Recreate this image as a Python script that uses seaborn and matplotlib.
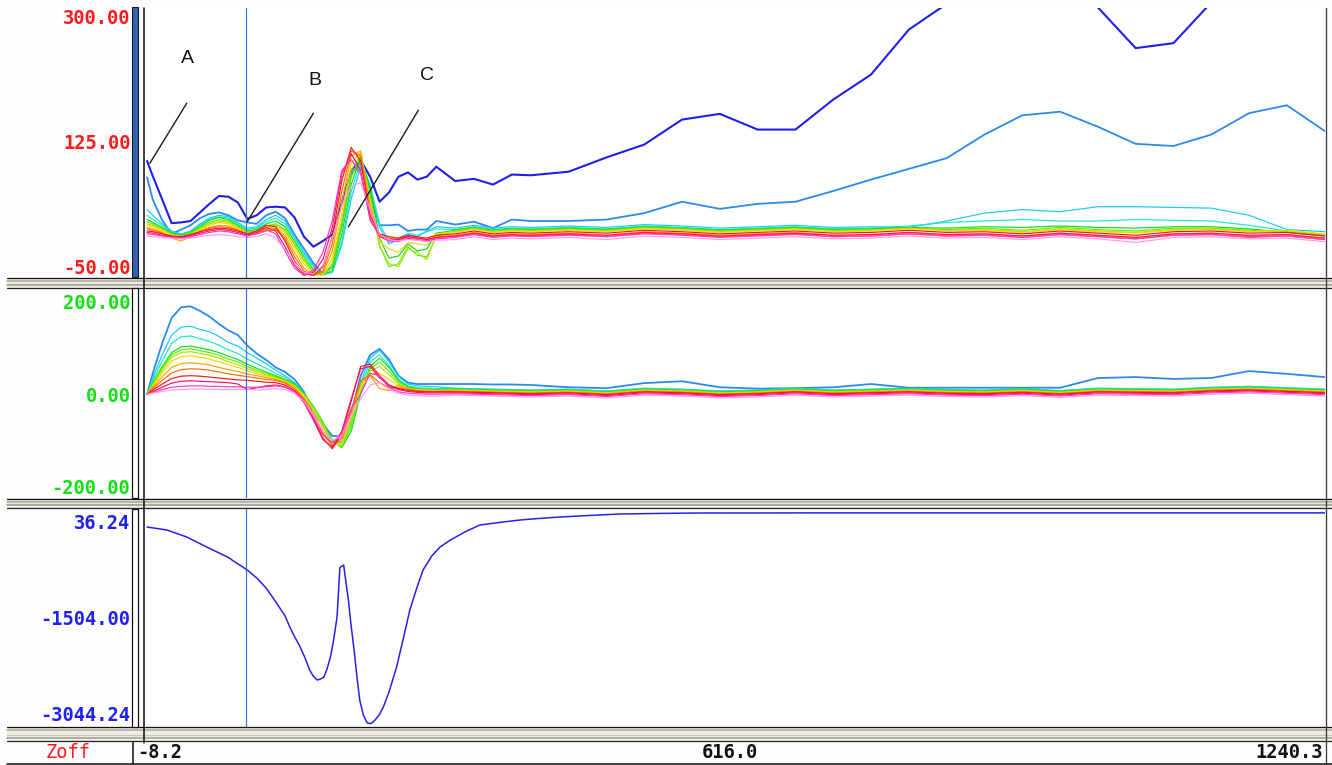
import matplotlib
matplotlib.use("Agg")
import matplotlib.pyplot as plt
from matplotlib.patches import Rectangle
from matplotlib.lines import Line2D
import matplotlib.transforms as mtrans
import pandas as pd
import seaborn as sns

# ---------------------------------------------------------------- data
X_MIN, X_MAX = -8.2, 1240.3
CURSOR_X = 99

X_GRID = [-6, 0, 10, 20, 30, 40, 50, 60, 70, 80, 90, 100, 110, 120, 130, 140,
          150, 160, 170, 180, 190, 200, 210, 220, 230, 240, 250, 260, 270, 280,
          290, 300, 320, 340, 360, 380, 400, 440, 480, 520, 560, 600, 640, 680,
          720, 760, 800, 840, 880, 920, 960, 1000, 1040, 1080, 1120, 1160, 1200, 1240]

# ---- panel 1 (range -50 .. 300)
P1_DARK_BLUE = [98, 77, 44, 11, 12, 14, 26, 38, 49, 48, 40, 17, 22, 33, 34, 33, 19, -8, -22, -14,
                -5, 40, 85, 99, 76, 41, 54, 76, 82, 72, 76, 90,
                70, 73, 65, 79, 78, 83, 103, 121, 156, 164, 142, 142, 184, 219, 282, 318, 340,
                372, 345, 313, 256, 263, 320, 350, 372, 385]
P1_BLUE = [75, 44, 15, -4, 2, 8, 18, 24, 26, 22, 15, 12, 10, 22, 27, 18, -5, -25, -45, -60,
           -50, 10, 80, 95, 50, 8, 8, 9, 0, 2, 2, 14,
           9, 13, 4, 16, 14, 14, 16, 25, 41, 31, 38, 41, 56, 72, 87, 102, 135, 162, 167, 146,
           122, 119, 135, 165, 176, 140]
P1_CYAN = [30, 22, 10, 0, -4, 0, 10, 18, 22, 20, 12, 4, 6, 16, 22, 14, -8, -30, -48, -60,
           -58, -20, 45, 90, 60, 5, -18, -12, -5, -8, 0, 6,
           4, 8, 4, 6, 5, 7, 5, 9, 7, 4, 6, 8, 5, 6, 5, 14, 25, 30, 27, 34, 34, 33, 32, 22, 2, -1]
P1_AQUA = [22, 16, 8, -2, -5, -1, 8, 16, 20, 18, 10, 2, 4, 13, 18, 10, -10, -32, -50, -61,
           -58, -15, 55, 98, 65, 10, -15, -10, -3, -6, -1, 3,
           2, 6, 2, 4, 3, 5, 3, 7, 5, 2, 4, 6, 3, 4, 7, 12, 14, 16, 14, 14, 16, 15, 14, 8, 0, -5]
P1_GREEN = [16, 12, 5, -3, -6, -2, 6, 15, 19, 16, 8, 0, 2, 10, 14, 6, -14, -36, -54, -62,
            -55, -5, 65, 103, 60, -10, -38, -35, -18, -28, -25, -3,
            1, 5, 1, 3, 2, 4, 2, 6, 4, 1, 3, 5, 2, 3, 5, 4, 6, 5, 7, 5, 4, 6, 6, 3, -2, -7]
P1_LIME = [13, 10, 3, -4, -7, -3, 4, 12, 16, 14, 6, -1, 0, 7, 10, 2, -18, -40, -57, -62,
           -50, 5, 75, 106, 50, -20, -50, -46, -22, -34, -36, -8,
           0, 4, 0, 2, 1, 3, 1, 5, 3, 0, 2, 4, 1, 2, 4, 2, 4, 1, 5, 2, 0, 4, 4, 1, -1, -6]
P1_YELLOW_GREEN = [10, 8, 2, -5, -8, -4, 3, 10, 14, 12, 5, -2, -1, 5, 8, 0, -20, -42, -58, -62,
                   -45, 15, 85, 108, 45, -22, -46, -50, -25, -30, -40, -5,
                   -1, 3, -1, 1, 0, 2, 0, 4, 2, -1, 1, 3, 0, 1, 4, 1, 2, -1, 3, 0, -2, 2, 3, 0, 0, -5]
P1_YELLOW = [8, 6, 0, -6, -8, -5, 2, 8, 12, 10, 4, -3, -2, 4, 6, -2, -24, -46, -60, -62,
             -38, 25, 95, 110, 40, -15, -25, -30, -16, -18, -20, -4,
             -2, 2, -2, 0, -1, 1, -1, 3, 1, -2, 0, 2, -1, 0, 3, 0, 1, -2, 2, -1, -3, 1, 2, -1, 1, -4]
P1_ORANGE = [5, 3, -2, -10, -14, -8, 0, 5, 8, 7, 2, -4, -3, 2, 4, -6, -30, -52, -62, -60,
             -28, 40, 105, 112, 35, -8, -12, -14, -10, -12, -14, -8,
             -6, -2, -6, -4, -5, -3, -6, -1, -3, -6, -4, -2, -6, -5, -2, -5, -4, -7, -3, -6, -9, -4,
             -3, -7, -5, -10]
P1_DARK_ORANGE = [3, 1, -3, -8, -10, -6, -1, 4, 6, 5, 1, -5, -4, 0, 2, -10, -36, -56, -62, -56,
                  -18, 55, 112, 105, 28, -6, -10, -12, -8, -10, -12, -9,
                  -8, -4, -8, -6, -7, -5, -8, -3, -5, -8, -6, -4, -8, -7, -4, -7, -6, -9, -5, -8,
                  -11, -6, -5, -9, -7, -12]
P1_RED = [0, -1, -4, -7, -8, -5, -1, 2, 4, 3, 0, -4, 0, 8, 6, -14, -42, -60, -62, -50,
          -8, 70, 117, 98, 22, -4, -8, -10, -6, -8, -10, -6,
          -4, 0, -4, -2, -3, -1, -3, 1, -1, -4, -2, 0, -3, -2, 1, -2, -1, -4, 0, -3, -6, -1, 0,
          -3, -2, -7]
P1_CRIMSON = [-2, -3, -6, -8, -9, -6, -3, 0, 2, 1, -2, -6, -2, 5, 0, -22, -48, -62, -58, -40,
              5, 80, 108, 85, 15, -6, -12, -12, -8, -10, -12, -9,
              -7, -3, -7, -5, -6, -4, -6, -2, -4, -7, -5, -3, -6, -5, -2, -5, -4, -7, -3, -6, -9,
              -4, -3, -6, -5, -10]
P1_MAGENTA = [-4, -5, -7, -9, -10, -8, -5, -2, 0, -1, -4, -7, -4, 2, -4, -28, -52, -62, -55, -30,
              15, 85, 100, 80, 18, -8, -14, -15, -10, -12, -14, -11,
              -9, -5, -9, -7, -8, -6, -8, -4, -6, -9, -7, -5, -8, -7, -4, -7, -6, -9, -5, -8, -11,
              -6, -5, -8, -7, -12]
P1_VIOLET = [-7, -8, -9, -10, -11, -10, -8, -6, -5, -6, -8, -9, -8, -4, -10, -26, -44, -58, -60, -48,
             -10, 35, 62, 68, 30, -5, -12, -14, -12, -13, -15, -13,
             -12, -8, -12, -10, -11, -9, -12, -7, -9, -12, -10, -8, -11, -10, -7, -10, -9, -12, -8,
             -11, -16, -9, -8, -11, -10, -15]

# ---- panel 2 (range -200 .. 200)
P2_BLUE = [0, 45, 110, 165, 188, 190, 180, 168, 152, 138, 128, 105, 88, 74, 58, 48, 32, 5, -43, -65,
           -90, -92, -40, 40, 85, 98, 75, 40, 25, 22, 22, 22,
           22, 22, 21, 21, 20, 15, 13, 24, 28, 15, 12, 13, 15, 22, 14, 14, 14, 14, 14, 35, 37, 33,
           35, 50, 44, 37]
P2_CYAN = [0, 35, 85, 128, 145, 147, 140, 135, 125, 112, 104, 90, 78, 66, 52, 40, 25, 0, -35, -70,
           -100, -105, -55, 25, 78, 95, 70, 38, 22, 18, 17, 16,
           13, 12, 11, 10, 9, 11, 7, 13, 11, 7, 9, 13, 9, 11, 13, 10, 9, 12, 8, 13, 12, 11, 15, 17, 14, 11]
P2_AQUA = [0, 30, 72, 110, 124, 126, 120, 114, 106, 96, 88, 76, 66, 56, 45, 36, 24, 2, -30, -65,
           -100, -110, -65, 15, 70, 85, 62, 32, 18, 14, 13, 12,
           12, 11, 10, 9, 8, 10, 6, 12, 10, 6, 8, 12, 8, 10, 12, 9, 8, 11, 7, 12, 11, 10, 14, 16, 13, 10]
P2_GREEN = [0, 25, 60, 90, 102, 104, 100, 96, 90, 82, 75, 65, 56, 48, 40, 32, 22, 2, -26, -60,
            -100, -116, -80, 0, 60, 78, 58, 30, 16, 12, 11, 10,
            11, 10, 9, 8, 7, 9, 5, 11, 9, 5, 7, 11, 7, 9, 11, 8, 7, 10, 6, 11, 10, 9, 13, 15, 12, 9]
P2_LIME = [0, 22, 56, 85, 96, 98, 94, 90, 84, 76, 70, 60, 52, 45, 38, 30, 20, 0, -28, -62,
           -102, -115, -70, 5, 55, 70, 50, 26, 14, 11, 10, 9,
           10, 9, 8, 7, 6, 8, 4, 10, 8, 4, 6, 10, 6, 8, 10, 7, 6, 9, 5, 10, 9, 8, 12, 14, 11, 8]
P2_YELLOW_GREEN = [0, 20, 52, 80, 90, 92, 88, 84, 78, 70, 64, 56, 48, 42, 36, 28, 18, -2, -30, -65,
                   -105, -112, -60, 10, 50, 60, 42, 22, 12, 10, 9, 8,
                   9, 8, 7, 6, 5, 7, 3, 9, 7, 3, 5, 9, 5, 7, 9, 6, 5, 8, 4, 9, 8, 7, 11, 13, 10, 7]
P2_YELLOW = [0, 18, 46, 72, 81, 83, 80, 76, 70, 64, 58, 51, 44, 39, 34, 28, 16, -4, -35, -72,
             -108, -108, -50, 15, 45, 45, 32, 18, 11, 9, 8, 8,
             8, 7, 6, 5, 4, 6, 2, 8, 6, 2, 4, 8, 4, 6, 8, 5, 4, 7, 3, 8, 7, 6, 10, 12, 9, 6]
P2_ORANGE = [0, 15, 38, 58, 66, 68, 66, 63, 58, 53, 49, 44, 40, 36, 32, 26, 14, -8, -42, -80,
             -110, -100, -40, 25, 40, 12, 8, 20, 12, 8, 7, 7,
             7, 6, 5, 4, 3, 5, 1, 7, 5, 1, 3, 7, 3, 5, 7, 4, 3, 6, 2, 7, 6, 5, 9, 11, 8, 5]
P2_DARK_ORANGE = [0, 12, 30, 46, 53, 55, 54, 52, 48, 44, 41, 38, 35, 32, 30, 24, 12, -10, -46, -85,
                  -112, -95, -35, 30, 42, 25, 15, 14, 10, 7, 6, 6,
                  6, 5, 4, 3, 2, 4, 0, 6, 4, 0, 2, 6, 2, 4, 6, 3, 2, 5, 1, 6, 5, 4, 8, 10, 7, 4]
P2_RED = [0, 9, 22, 34, 39, 40, 39, 37, 35, 33, 31, 30, 28, 26, 25, 20, 8, -14, -52, -95,
          -118, -85, -15, 60, 65, 40, 20, 12, 8, 6, 5, 5,
          5, 4, 3, 2, 1, 3, -1, 5, 3, -1, 1, 5, 1, 3, 5, 2, 1, 4, 0, 5, 4, 3, 7, 9, 6, 3]
P2_CRIMSON = [0, 6, 15, 24, 28, 29, 28, 27, 26, 25, 22, 10, 14, 18, 20, 16, 5, -18, -56, -98,
              -115, -80, -10, 55, 60, 35, 18, 10, 6, 4, 3, 3,
              3, 2, 1, 0, -1, 1, -3, 3, 1, -3, -1, 3, -1, 1, 3, 0, -1, 2, -2, 3, 2, 1, 5, 7, 4, 1]
P2_MAGENTA = [0, 4, 10, 15, 17, 18, 18, 17, 17, 16, 16, 15, 15, 16, 18, 15, 5, -15, -50, -88,
              -105, -85, -30, 0, 45, 40, 15, 5, 2, 1, 0, 0,
              1, 0, -1, -2, -3, -1, -5, 1, -1, -5, -3, 1, -3, -1, 1, -2, -3, 0, -4, 1, 0, -1, 3, 5, 2, -1]
P2_VIOLET = [0, 2, 6, 9, 10, 11, 11, 11, 10, 10, 10, 10, 9, 10, 12, 10, 2, -15, -45, -80,
             -100, -90, -45, -10, 20, 25, 10, 2, -2, -3, -4, -4,
             -2, -3, -4, -5, -6, -4, -8, -2, -4, -8, -6, -2, -6, -4, -2, -5, -6, -3, -7, -2, -3, -4,
             0, 2, -1, -4]

# ---- panel 3 (single trace)
P3_X = [-6, 15, 36, 57, 79, 100, 110, 120, 131, 140, 145, 150, 156, 161, 166, 170, 174, 178,
        181, 184, 188, 191, 195, 198, 202, 205, 207, 210, 213, 216, 219, 223, 227, 231, 235,
        240, 244, 250, 258, 265, 272, 280, 286, 295, 304, 315, 330, 346, 370, 389, 410, 431,
        460, 494, 540, 579, 700, 900, 1100, 1240]
P3_Y = [-49, -97, -210, -370, -531, -740, -869, -1030, -1271, -1480, -1657, -1810, -1979,
        -2150, -2348, -2450, -2509, -2490, -2461, -2350, -2140, -1900, -1497, -700, -660,
        -1000, -1223, -1650, -2027, -2450, -2831, -3080, -3200, -3210, -3156, -3060, -2943,
        -2700, -2300, -1850, -1384, -1000, -741, -520, -370, -258, -130, -17, 30, 64, 90, 112,
        135, 160, 170, 176, 178, 178, 178, 178]

# ---- axis labels
P1_TICKS = [300, 125, -50]
P1_TICK_LABELS = ["300.00", "125.00", "-50.00"]
P2_TICKS = [200, 0, -200]
P2_TICK_LABELS = ["200.00", "0.00", "-200.00"]
P3_TICKS = [36.24, -1504.00, -3044.24]
P3_TICK_LABELS = ["36.24", "-1504.00", "-3044.24"]
X_TICKS = [-8.2, 616.0, 1240.3]
X_TICK_LABELS = ["-8.2", "616.0", "1240.3"]
AXIS_NAME = "Zoff"

# annotations: label, text position, line start, line end (data units of panel 1)
ANNOT_LABELS = ["A", "B", "C"]
ANNOT_TEXT_XY = [(37, 242), (172, 211), (290, 218)]
ANNOT_LINE_FROM = [(36, 179), (170, 165), (281, 169)]
ANNOT_LINE_TO = [(-3, 95), (100, 13), (207, 6)]

# ---------------------------------------------------------------- style
P1_SERIES = ["dark blue", "blue", "cyan", "aqua", "green", "lime", "yellow-green", "yellow",
             "orange", "dark orange", "red", "crimson", "magenta", "violet"]
P1_VALUES = [P1_DARK_BLUE, P1_BLUE, P1_CYAN, P1_AQUA, P1_GREEN, P1_LIME, P1_YELLOW_GREEN,
             P1_YELLOW, P1_ORANGE, P1_DARK_ORANGE, P1_RED, P1_CRIMSON, P1_MAGENTA, P1_VIOLET]
P2_SERIES = P1_SERIES[1:]
P2_VALUES = [P2_BLUE, P2_CYAN, P2_AQUA, P2_GREEN, P2_LIME, P2_YELLOW_GREEN, P2_YELLOW,
             P2_ORANGE, P2_DARK_ORANGE, P2_RED, P2_CRIMSON, P2_MAGENTA, P2_VIOLET]

COLORS = {
    "dark blue": "#1f1fe8", "blue": "#2b8af0", "cyan": "#18c8f8", "aqua": "#18e8c0",
    "green": "#10d820", "lime": "#58f000", "yellow-green": "#b0e000", "yellow": "#ffd400",
    "orange": "#ffa000", "dark orange": "#ff6a00", "red": "#f01818", "crimson": "#ff1060",
    "magenta": "#ff38c0", "violet": "#ff98f0",
}
WIDTHS = {"dark blue": 1.5, "blue": 1.3}

sns.set_theme(style="white")
plt.rcParams["font.family"] = ["DejaVu Sans Mono", "DejaVu Sans"]

W, H = 1332, 765
fig = plt.figure(figsize=(W / 100, H / 100), dpi=100)
fig.patch.set_facecolor("#fdfdfd")


def fx(px):
    return px / W


def fy(py):
    return 1 - py / H


LEFT, RIGHT = 145, 1325


def add_panel(top, bottom):
    ax = fig.add_axes([fx(LEFT), fy(bottom), fx(RIGHT) - fx(LEFT), fy(top) - fy(bottom)])
    ax.set_facecolor("white")
    for s in ax.spines.values():
        s.set_visible(False)
    ax.set_xlim(X_MIN, X_MAX)
    ax.set_xticks([])
    ax.grid(False)
    return ax


def draw_series(ax, names, values):
    rows = []
    for n, vals in zip(names, values):
        assert len(vals) == len(X_GRID), n
        rows += [(n, x, v) for x, v in zip(X_GRID, vals)]
    df = pd.DataFrame(rows, columns=["series", "x", "value"])
    for n in names:
        sns.lineplot(data=df[df["series"] == n], x="x", y="value", color=COLORS[n],
                     linewidth=WIDTHS.get(n, 0.85), ax=ax, estimator=None, sort=False,
                     legend=False)
    ax.set_xlabel("")
    ax.set_ylabel("")


def y_labels(ax, ticks, labels, color):
    ax.set_yticks(ticks)
    ax.set_yticklabels(labels, color=color, fontweight="bold", fontsize=13.5,
                       family="DejaVu Sans Mono")
    ax.tick_params(axis="y", length=0, pad=10.5)


# ---- panel 1
ax1 = add_panel(8, 277.5)
draw_series(ax1, P1_SERIES, P1_VALUES)
ax1.set_xlim(X_MIN, X_MAX)
ax1.set_ylim(-65.1, 312.2)
y_labels(ax1, P1_TICKS, P1_TICK_LABELS, "#ff1a1a")
ax1.axvline(CURSOR_X, color="#3a78d8", lw=0.9)
for lab, txy, p0, p1 in zip(ANNOT_LABELS, ANNOT_TEXT_XY, ANNOT_LINE_FROM, ANNOT_LINE_TO):
    ax1.plot([p0[0], p1[0]], [p0[1], p1[1]], color="#1a1a1a", lw=1.0)
    ax1.text(txy[0], txy[1], lab, ha="center", va="center", fontsize=14,
             family=["Liberation Sans", "DejaVu Sans"], color="#111111")

# ---- panel 2
ax2 = add_panel(288, 498)
draw_series(ax2, P2_SERIES, P2_VALUES)
ax2.set_xlim(X_MIN, X_MAX)
ax2.set_ylim(-224.4, 229.6)
y_labels(ax2, P2_TICKS, P2_TICK_LABELS, "#10e010")
ax2.axvline(CURSOR_X, color="#3a78d8", lw=0.9)

# ---- panel 3
ax3 = add_panel(508.5, 726.5)
df3 = pd.DataFrame({"x": P3_X, "value": P3_Y})
sns.lineplot(data=df3, x="x", y="value", color="#2323e6", linewidth=1.1, ax=ax3,
             estimator=None, sort=False, legend=False)
ax3.set_xlabel("")
ax3.set_ylabel("")
ax3.set_xlim(X_MIN, X_MAX)
ax3.set_ylim(-3256.5, 248.5)
y_labels(ax3, P3_TICKS, P3_TICK_LABELS, "#2020f0")
ax3.axvline(CURSOR_X, color="#3a78d8", lw=0.9)

# bottom x labels (positioned by data value on the shared x scale)
x_label_y = -(752 - 726.5) / (726.5 - 508.5)
aligns = ["left", "center", "right"]
shifts_px = [-8, -5, -2]
for xv, lab, ha, sh in zip(X_TICKS, X_TICK_LABELS, aligns, shifts_px):
    tr = ax3.get_xaxis_transform() + mtrans.ScaledTranslation(sh / 100, 0, fig.dpi_scale_trans)
    ax3.text(xv, x_label_y, lab, transform=tr, ha=ha, va="center", fontsize=13.5,
             fontweight="bold", color="#111111", family="DejaVu Sans Mono", clip_on=False)

fig.text(fx(68), fy(752), AXIS_NAME, color="#ff1a1a", ha="center", va="center",
         fontsize=13.5, family="DejaVu Sans Mono")


# ---------------------------------------------------------------- frame decorations
def hline(x0, x1, y, color, lw=1.0):
    fig.add_artist(Line2D([fx(x0), fx(x1)], [fy(y), fy(y)], color=color, lw=lw * 0.75,
                          transform=fig.transFigure, zorder=6))


def vline(x, y0, y1, color, lw=1.0):
    fig.add_artist(Line2D([fx(x), fx(x)], [fy(y0), fy(y1)], color=color, lw=lw * 0.75,
                          transform=fig.transFigure, zorder=7))


def separator(t, b):
    fig.add_artist(Rectangle((fx(7), fy(b)), fx(W) - fx(7), fy(t) - fy(b),
                             transform=fig.transFigure, facecolor="#efede6",
                             edgecolor="none", zorder=5))
    hline(7, W, t + 0.5, "#111111", 1.2)
    hline(7, W, t + 3.5, "#aeaca4", 1.6)
    hline(7, W, (t + b) / 2 + 1, "#c8c6be", 1.2)
    hline(7, W, b - 3.5, "#a4a29a", 1.6)
    hline(7, W, b - 0.5, "#222222", 1.2)


separator(277.5, 288)
separator(498, 508.5)
separator(726.5, 741.5)

# left scroll markers
fig.add_artist(Rectangle((fx(131.5), fy(277)), fx(137.5) - fx(131.5), fy(7) - fy(277),
                         transform=fig.transFigure, facecolor="#3562ae",
                         edgecolor="#1a1a2a", lw=0.8, zorder=8))
for t, b in [(288, 498), (508.5, 726.5)]:
    fig.add_artist(Rectangle((fx(131.5), fy(b)), fx(137.5) - fx(131.5), fy(t) - fy(b),
                             transform=fig.transFigure, facecolor="white",
                             edgecolor="#111111", lw=0.9, zorder=8))

vline(143.5, 8, 743, "#111111", 1.5)
vline(132.5, 741.5, 765, "#111111", 1.5)
vline(1325.5, 8, 765, "#404040", 1.3)
hline(7, W, 764, "#111111", 1.5)

fig.savefig("out.png", dpi=100, facecolor=fig.get_facecolor())
